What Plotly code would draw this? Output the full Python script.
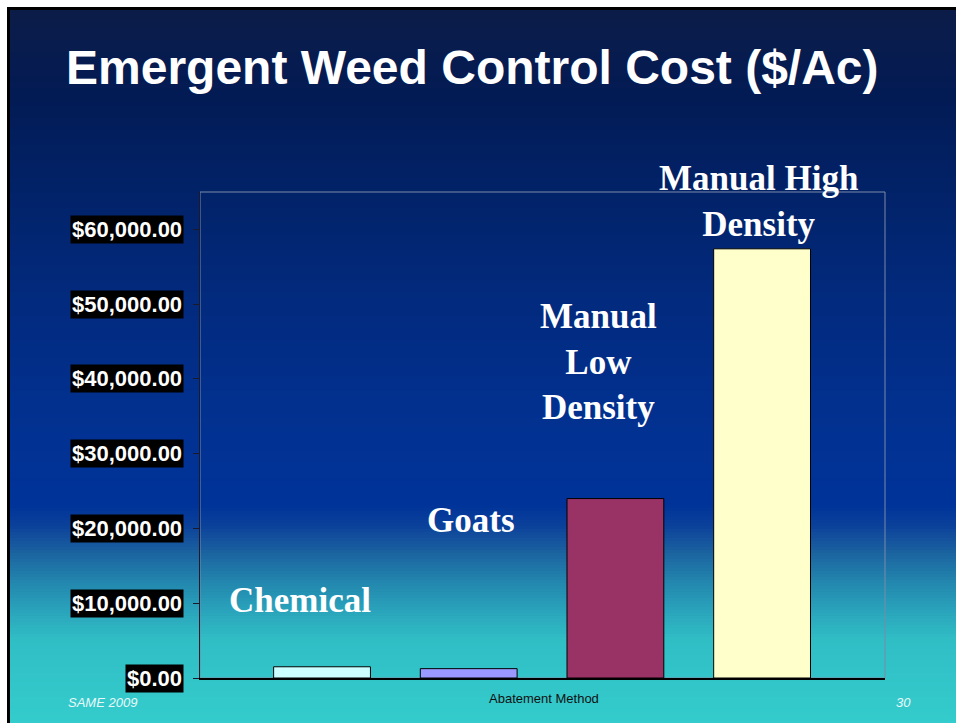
import plotly.graph_objects as go

# ---- data ----
categories = ["Chemical", "Goats", "Manual Low Density", "Manual High Density"]
costs = [1500, 1250, 24000, 57400]
bar_colors = ["#ccffff", "#9999ff", "#993366", "#ffffcc"]
tick_values = [0, 10000, 20000, 30000, 40000, 50000, 60000]
category_labels = ["Chemical", "Goats", "Manual<br>Low<br>Density", "Manual High<br>Density"]

W, H = 956, 723
L, R, T, B = 200, 885, 192, 678  # plot area in pixels


def px_x(x):
    return (x - L) / (R - L)


def px_y(y):
    return (B - y) / (B - T)


def hex2rgb(h):
    h = h.lstrip("#")
    return tuple(int(h[i:i + 2], 16) for i in (0, 2, 4))


stops = [
    (10, "#0c1c48"), (100, "#021b55"), (200, "#02236a"), (300, "#022a7e"),
    (400, "#02308e"), (505, "#003399"), (525, "#0b409a"), (550, "#1a5f9f"),
    (580, "#2284ad"), (610, "#2aa3bb"), (640, "#30bec5"), (723, "#34cccc"),
]


def grad(y):
    for (y0, c0), (y1, c1) in zip(stops[:-1], stops[1:]):
        if y0 <= y <= y1:
            t = (y - y0) / (y1 - y0)
            a, b = hex2rgb(c0), hex2rgb(c1)
            return "rgb(%d,%d,%d)" % tuple(round(a[i] + (b[i] - a[i]) * t) for i in range(3))
    return stops[-1][1]


shapes = []
# black slide border
shapes.append(dict(type="rect", xref="paper", yref="paper", layer="below",
                   x0=px_x(7), x1=px_x(W + 2), y0=px_y(7), y1=px_y(H + 2),
                   fillcolor="black", line=dict(width=0)))
step = 3
y = 10
while y < H:
    shapes.append(dict(type="rect", xref="paper", yref="paper", layer="below",
                       x0=px_x(10), x1=px_x(W + 2), y0=px_y(y), y1=px_y(y + step + 0.6),
                       fillcolor=grad(y + step / 2), line=dict(width=0)))
    y += step
# plot frame
shapes.append(dict(type="rect", xref="paper", yref="paper", layer="below",
                   x0=0, x1=1, y0=0, y1=1, fillcolor="rgba(0,0,0,0)",
                   line=dict(color="#7a8aa8", width=1)))

fig = go.Figure()
fig.add_trace(go.Bar(
    x=list(range(len(categories))), y=costs,
    marker=dict(color=bar_colors, line=dict(color="black", width=1)),
    width=0.66, hoverinfo="skip", showlegend=False,
))

annotations = []
for v in tick_values:
    annotations.append(dict(
        xref="paper", yref="y", x=0, y=v, xanchor="right", yanchor="middle",
        xshift=-16, text="${:,.2f}".format(v), showarrow=False,
        bgcolor="black", borderpad=1,
        font=dict(family="Arial, Liberation Sans, sans-serif", size=22, color="white", weight="bold"),
    ))

label_pos = [(300, 600), (471, 520), (598, 362), (758, 201)]
for txt, (lx, ly) in zip(category_labels, label_pos):
    annotations.append(dict(
        xref="paper", yref="paper", x=px_x(lx), y=px_y(ly), xanchor="center", yanchor="middle",
        text=txt, showarrow=False, align="center",
        font=dict(family="Liberation Serif, Times New Roman, serif", size=35, color="white", weight="bold"),
    ))

footer_font = dict(family="Arial, Liberation Sans, sans-serif", size=13)
annotations.append(dict(xref="paper", yref="paper", x=px_x(66), y=px_y(702), xanchor="left",
                        yanchor="middle", text="<i>SAME 2009</i>", showarrow=False,
                        font=dict(color="#e8f8f8", **footer_font)))
annotations.append(dict(xref="paper", yref="paper", x=px_x(544), y=px_y(698), xanchor="center",
                        yanchor="middle", text="Abatement Method", showarrow=False,
                        font=dict(color="#111111", **footer_font)))
annotations.append(dict(xref="paper", yref="paper", x=px_x(903), y=px_y(702), xanchor="center",
                        yanchor="middle", text="<i>30</i>", showarrow=False,
                        font=dict(color="#e8f8f8", **footer_font)))

fig.update_layout(
    width=W, height=H,
    margin=dict(l=L, r=W - R, t=T, b=H - B, pad=0),
    paper_bgcolor="white", plot_bgcolor="rgba(0,0,0,0)",
    title=dict(text="<b>Emergent Weed Control Cost ($/Ac)</b>",
               x=66 / W, xanchor="left", y=1 - 67.5 / H, yanchor="middle",
               font=dict(family="Arial, Liberation Sans, sans-serif", size=48, color="white")),
    shapes=shapes, annotations=annotations,
    xaxis=dict(range=[-0.832, 3.838], showticklabels=False, ticks="", showgrid=False,
               zeroline=False, showline=True, linecolor="black", linewidth=1.5, fixedrange=True),
    yaxis=dict(range=[0, 65000], tickvals=tick_values, showticklabels=False, ticks="outside",
               ticklen=6, tickcolor="#1a1a2a", showgrid=False, zeroline=False,
               showline=True, linecolor="#1a1a2a", linewidth=1.5, fixedrange=True),
    bargap=0,
)

fig.write_html(
    "out.html",
    config={"displayModeBar": False, "staticPlot": True},
    post_script="document.body.style.margin='0';document.body.style.padding='0';"
                "document.documentElement.style.overflow='hidden';",
)
